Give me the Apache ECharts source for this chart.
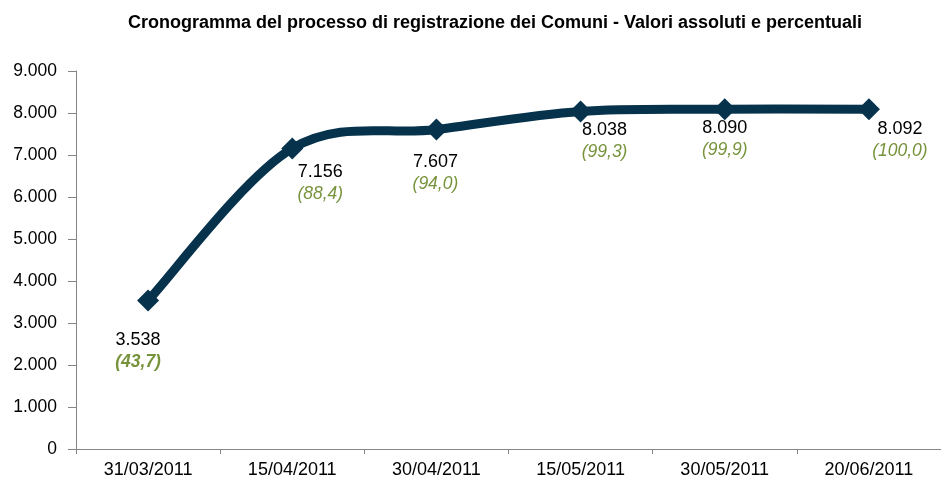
<!DOCTYPE html>
<html>
<head>
<meta charset="utf-8">
<script src="https://cdn.jsdelivr.net/npm/echarts@6/dist/echarts.min.js"></script>
<style>html,body{margin:0;padding:0;background:#fff}#c{width:941px;height:479px}</style>
</head>
<body>
<div id="c"></div>
<script>
// ---- data ----
const titleText = 'Cronogramma del processo di registrazione dei Comuni - Valori assoluti e percentuali';
const categories = ['31/03/2011', '15/04/2011', '30/04/2011', '15/05/2011', '30/05/2011', '20/06/2011'];
const comuni = [3538, 7156, 7607, 8038, 8090, 8092];
const percentuali = [43.7, 88.4, 94.0, 99.3, 99.9, 100.0];
const yTicks = [0, 1000, 2000, 3000, 4000, 5000, 6000, 7000, 8000, 9000];

// ---- styling (label placement per point) ----
const labelOffsets = [[-10, 18], [28, 2], [-1, 11], [24, -3], [0, -3], [31, -2]];
const LINE_COLOR = '#06324c';

function fmtThousands(v) {
  return String(v).replace(/\B(?=(\d{3})+(?!\d))/g, '.');
}
function fmtPct(p) {
  return '(' + p.toFixed(1).replace('.', ',') + ')';
}

const seriesData = comuni.map((v, i) => ({
  value: v,
  label: {
    offset: labelOffsets[i],
    formatter: '{v|' + fmtThousands(v) + '}\n{' + (i === 0 ? 'pb' : 'p') + '|' + fmtPct(percentuali[i]) + '}'
  }
}));

// Smoothed curve (Catmull-Rom style, like the spreadsheet's smoothed line), through axis coordinates
function renderCurve(params, api) {
  if (params.dataIndex !== 0) return null;
  const pts = comuni.map((v, i) => api.coord([i, v]));
  const n = pts.length;
  let d = 'M' + pts[0][0] + ' ' + pts[0][1];
  for (let i = 0; i < n - 1; i++) {
    const p0 = pts[Math.max(i - 1, 0)], p1 = pts[i], p2 = pts[i + 1], p3 = pts[Math.min(i + 2, n - 1)];
    const c1x = p1[0] + (p2[0] - p0[0]) / 6, c1y = p1[1] + (p2[1] - p0[1]) / 6;
    const c2x = p2[0] - (p3[0] - p1[0]) / 6, c2y = p2[1] - (p3[1] - p1[1]) / 6;
    d += ' C' + c1x + ' ' + c1y + ' ' + c2x + ' ' + c2y + ' ' + p2[0] + ' ' + p2[1];
  }
  return {
    type: 'path',
    shape: {pathData: d},
    style: {stroke: LINE_COLOR, lineWidth: 9, fill: 'none', lineJoin: 'round', lineCap: 'butt'}
  };
}

const FF = 'Liberation Sans, Arial, sans-serif';
const chart = echarts.init(document.getElementById('c'), null, {renderer: 'canvas'});
chart.setOption({
  animation: false,
  backgroundColor: '#ffffff',
  title: {
    text: titleText,
    left: 490,
    textAlign: 'center',
    top: 9,
    textStyle: {fontFamily: FF, fontSize: 18, fontWeight: 'bold', color: '#000'}
  },
  grid: {left: 76, right: -5, top: 71, bottom: 28, containLabel: false},
  xAxis: {
    type: 'category',
    data: categories,
    boundaryGap: true,
    axisLine: {lineStyle: {color: '#868686', width: 1}},
    axisTick: {show: true, length: 5, inside: false, lineStyle: {color: '#868686'}},
    axisLabel: {color: '#000', fontSize: 18, fontFamily: FF, margin: 12, interval: 0}
  },
  yAxis: {
    type: 'value',
    min: yTicks[0],
    max: yTicks[yTicks.length - 1],
    interval: 1000,
    axisLine: {show: true, lineStyle: {color: '#868686', width: 1}},
    axisTick: {show: true, length: 8, lineStyle: {color: '#868686'}},
    splitLine: {show: false},
    axisLabel: {color: '#000', fontSize: 17.5, fontFamily: FF, margin: 19,
      formatter: v => fmtThousands(v)}
  },
  series: [{
    type: 'custom',
    data: comuni.map((v, i) => [i, v]),
    encode: {x: 0, y: 1},
    renderItem: renderCurve,
    z: 2,
    silent: true
  }, {
    type: 'line',
    data: seriesData,
    symbol: 'diamond',
    symbolSize: 22,
    z: 3,
    lineStyle: {width: 0, opacity: 0},
    itemStyle: {color: LINE_COLOR},
    label: {
      show: true,
      position: 'bottom',
      distance: 0,
      align: 'center',
      rich: {
        v: {fontSize: 18, color: '#000', fontFamily: FF, lineHeight: 22, align: 'center'},
        p: {fontSize: 17.5, color: '#77933c', fontStyle: 'italic', fontFamily: FF, lineHeight: 22, align: 'center'},
        pb: {fontSize: 17.5, color: '#77933c', fontStyle: 'italic', fontWeight: 'bold', fontFamily: FF, lineHeight: 22, align: 'center'}
      }
    }
  }]
});
</script>
</body>
</html>
